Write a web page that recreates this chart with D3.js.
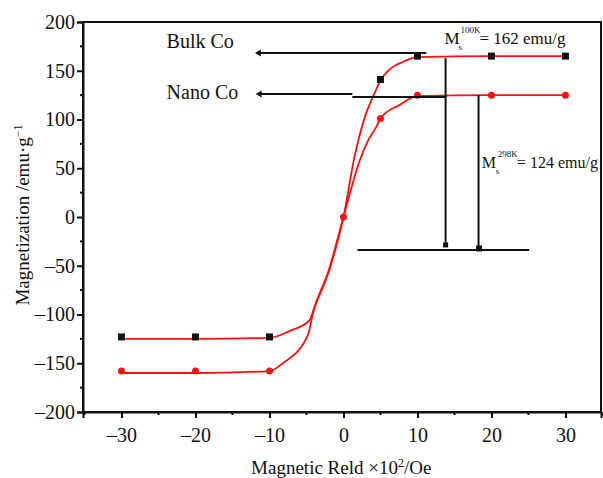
<!DOCTYPE html>
<html>
<head>
<meta charset="utf-8">
<script src="https://cdn.jsdelivr.net/npm/d3@7"></script>
<style>
  body { margin: 0; background: #fff; }
  text { font-family: "Liberation Serif", "Times New Roman", serif; fill: #111; }
</style>
</head>
<body>
<div id="chart"></div>
<script>
const width = 603;
const height = 478;
const margin = { top: 22, right: 2, bottom: 66, left: 83 };

// Measured points (black squares = bulk Co, red dots = nano Co)
const bulkX = [-30, -20, -10, 5, 10, 20, 30];
const bulkY = [-123, -123, -123, 141, 165, 165, 165];
const nanoX = [-30, -20, -10, 0, 5, 10, 20, 30];
const nanoY = [-158, -158, -158, 0, 101, 125, 125, 125];

// Red fitted curves
const bulkFitX = [-30, -20, -10, -7.3, -4.6, -3.9, -1.9, 0, 1.5, 3, 4.2, 5, 6.5, 8, 10, 20, 30];
const bulkFitY = [-125, -125, -124, -117, -106, -92, -54, 0, 62, 105, 127, 140, 153, 159, 164, 165, 165];
const nanoFitX = [-30, -20, -10, -8.2, -4.8, -4.1, -2, 0, 2.2, 3.3, 4.4, 5, 7.6, 10, 20, 30];
const nanoFitY = [-160, -160, -158, -150, -121, -98, -55, 0, 58, 78, 92, 101, 115, 124, 125, 125];

// Axis ticks
const xTicks = [-30, -20, -10, 0, 10, 20, 30];
const yTicks = [-200, -150, -100, -50, 0, 50, 100, 150, 200];

const svg = d3.select("#chart").append("svg")
  .attr("width", width)
  .attr("height", height);

const x = d3.scaleLinear().domain([-35.2, 34.8]).range([margin.left, width - margin.right]);
const y = d3.scaleLinear().domain([-200, 200]).range([height - margin.bottom, margin.top]);

// frame
svg.append("rect")
  .attr("x", x.range()[0]).attr("y", y.range()[1])
  .attr("width", x.range()[1] - x.range()[0])
  .attr("height", y.range()[0] - y.range()[1])
  .attr("fill", "none").attr("stroke", "#111").attr("stroke-width", 2);

const fmt = d => d < 0 ? "\u2013" + Math.abs(d) : String(d);

// x axis
const xAxis = svg.append("g")
  .attr("transform", `translate(0,${y(-200)})`)
  .call(d3.axisBottom(x).tickValues(xTicks).tickFormat(fmt).tickSize(6).tickPadding(10));
xAxis.append("g").selectAll("line")
  .data(d3.range(-35, 36, 5).filter(v => v % 10 !== 0))
  .join("line")
  .attr("x1", d => x(d)).attr("x2", d => x(d))
  .attr("y1", 0).attr("y2", 3)
  .attr("stroke", "#111").attr("stroke-width", 2);

// y axis
const yAxis = svg.append("g")
  .attr("transform", `translate(${x.range()[0]},0)`)
  .call(d3.axisLeft(y).tickValues(yTicks).tickFormat(fmt).tickSize(6).tickPadding(2));
yAxis.append("g").selectAll("line")
  .data(d3.range(-175, 200, 50))
  .join("line")
  .attr("x1", -3).attr("x2", 0)
  .attr("y1", d => y(d)).attr("y2", d => y(d))
  .attr("stroke", "#111").attr("stroke-width", 2);

svg.selectAll(".domain").attr("stroke", "#111").attr("stroke-width", 2);
svg.selectAll(".tick line").attr("stroke", "#111").attr("stroke-width", 2);
svg.selectAll(".tick text").attr("font-size", 20).attr("font-family", "Liberation Serif").attr("fill", "#111");

// axis titles
const xTitle = svg.append("text")
  .attr("x", x(-0.3)).attr("y", 474)
  .attr("text-anchor", "middle").attr("font-size", 19);
xTitle.append("tspan").text("Magnetic Reld \u00d710");
xTitle.append("tspan").attr("font-size", 12).attr("dy", -7).text("2");
xTitle.append("tspan").attr("dy", 7).text("/Oe");

const yTitle = svg.append("text")
  .attr("transform", `translate(29,${y(2)}) rotate(-90)`)
  .attr("text-anchor", "middle").attr("font-size", 19);
yTitle.append("tspan").text("Magnetization /emu\u00b7g");
yTitle.append("tspan").attr("font-size", 12).attr("dy", -7).text("\u22121");

// red fitted curves
const line = d3.line().x(d => x(d[0])).y(d => y(d[1])).curve(d3.curveMonotoneX);
[[bulkFitX, bulkFitY], [nanoFitX, nanoFitY]].forEach(([xs, ys]) => {
  svg.append("path")
    .datum(xs.map((v, i) => [v, ys[i]]))
    .attr("d", line)
    .attr("fill", "none")
    .attr("stroke", "#ff1010")
    .attr("stroke-width", 1.8);
});

// markers
svg.selectAll(".bulk")
  .data(bulkX.map((v, i) => [v, bulkY[i]]))
  .join("rect")
  .attr("class", "bulk")
  .attr("x", d => x(d[0]) - 3.5).attr("y", d => y(d[1]) - 3.5)
  .attr("width", 7).attr("height", 7)
  .attr("fill", "#111");

svg.selectAll(".nano")
  .data(nanoX.map((v, i) => [v, nanoY[i]]))
  .join("circle")
  .attr("class", "nano")
  .attr("cx", d => x(d[0])).attr("cy", d => y(d[1]))
  .attr("r", 3.5)
  .attr("fill", "#ff1010");

// annotation lines (data units)
const annoX1 = [-11.7, -11.6, 1.2, 13.8, 18.25, 1.9];
const annoY1 = [168.2, 126.2, 123.1, 163, 125, -33.8];
const annoX2 = [11.2, 1.2, 13.9, 13.8, 18.25, 25.1];
const annoY2 = [168.2, 126.2, 123.1, -28.7, -31.8, -33.8];

svg.selectAll(".anno")
  .data(annoX1.map((v, i) => i))
  .join("line")
  .attr("class", "anno")
  .attr("x1", i => x(annoX1[i])).attr("y1", i => y(annoY1[i]))
  .attr("x2", i => x(annoX2[i])).attr("y2", i => y(annoY2[i]))
  .attr("stroke", "#111").attr("stroke-width", 2);

// arrow heads on the label lines
svg.selectAll(".arrow")
  .data([0, 1])
  .join("path")
  .attr("class", "arrow")
  .attr("transform", i => `translate(${x(annoX1[i])},${y(annoY1[i])})`)
  .attr("d", "M-2,0 L4,-3.5 L4,3.5 Z")
  .attr("fill", "#111");

// end dots on the vertical lines
svg.selectAll(".enddot")
  .data([3, 4])
  .join("rect")
  .attr("class", "enddot")
  .attr("x", i => x(annoX2[i]) - 2.5).attr("y", i => y(annoY2[i]) - 2.5)
  .attr("width", i => i === 4 ? 6 : 5).attr("height", i => i === 4 ? 6 : 5)
  .attr("fill", "#111");

// labels
svg.append("text").attr("x", x(-23.9)).attr("y", y(173)).attr("font-size", 20).text("Bulk Co");
svg.append("text").attr("x", x(-23.9)).attr("y", y(121)).attr("font-size", 20).text("Nano Co");

function msLabel(px, py, temp, value, size) {
  const g = svg.append("g").attr("transform", `translate(${px},${py})`);
  g.append("text").attr("font-size", size).text("M");
  g.append("text").attr("x", 14).attr("y", 6).attr("font-size", 9).text("s");
  g.append("text").attr("x", 16).attr("y", -11).attr("font-size", 9).text(temp);
  g.append("text").attr("x", 35).attr("font-size", size).text("= " + value + " emu/g");
}
msLabel(x(13.65), y(177), "100K", 162, 17);
msLabel(x(18.7), y(50.5), "298K", 124, 16);
</script>
</body>
</html>
